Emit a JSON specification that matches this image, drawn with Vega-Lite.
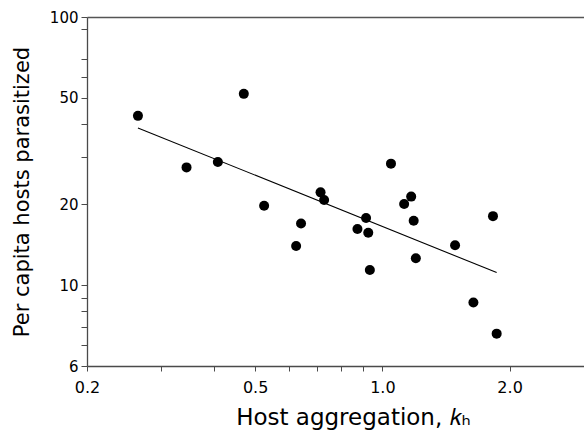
{
  "$schema": "https://vega.github.io/schema/vega-lite/v6.json",
  "width": 497,
  "height": 349,
  "autosize": {"type": "none"},
  "padding": {"left": 87, "top": 17, "right": 0, "bottom": 67},
  "background": "white",
  "config": {
    "view": {"stroke": null},
    "font": "DejaVu Sans",
    "axis": {
      "grid": false,
      "domainColor": "#4a4a4a",
      "domainWidth": 1.3,
      "tickColor": "#4a4a4a",
      "tickWidth": 1,
      "labelColor": "black",
      "titleColor": "black",
      "labelFont": "DejaVu Sans",
      "titleFont": "DejaVu Sans",
      "titleFontWeight": "normal"
    }
  },
  "datasets": {
    "points": [
      {"k": 0.264, "hosts": 42.8},
      {"k": 0.470, "hosts": 51.7},
      {"k": 0.344, "hosts": 27.5},
      {"k": 0.408, "hosts": 28.8},
      {"k": 0.525, "hosts": 19.8},
      {"k": 0.625, "hosts": 14.0},
      {"k": 0.642, "hosts": 17.0},
      {"k": 0.714, "hosts": 22.2},
      {"k": 0.728, "hosts": 20.8},
      {"k": 0.873, "hosts": 16.2},
      {"k": 0.915, "hosts": 17.8},
      {"k": 0.926, "hosts": 15.7},
      {"k": 0.934, "hosts": 11.4},
      {"k": 1.048, "hosts": 28.4},
      {"k": 1.126, "hosts": 20.1},
      {"k": 1.170, "hosts": 21.4},
      {"k": 1.186, "hosts": 17.4},
      {"k": 1.200, "hosts": 12.6},
      {"k": 1.486, "hosts": 14.1},
      {"k": 1.642, "hosts": 8.62},
      {"k": 1.827, "hosts": 18.1},
      {"k": 1.864, "hosts": 6.60}
    ],
    "fit": [
      {"k": 0.264, "hosts": 38.6},
      {"k": 1.864, "hosts": 11.15}
    ]
  },
  "resolve": {"axis": {"x": "independent", "y": "independent"}},
  "layer": [
    {
      "data": {"name": "fit"},
      "mark": {"type": "line", "color": "black", "strokeWidth": 1.1},
      "encoding": {
        "x": {
          "field": "k", "type": "quantitative",
          "scale": {"type": "log", "domain": [0.2, 3.0], "nice": false, "zero": false},
          "axis": {
            "orient": "bottom",
            "values": [0.2, 0.3, 0.4, 0.5, 0.6, 0.7, 0.8, 0.9, 1, 2],
            "format": ".1f",
            "labelExpr": "indexof([0.2, 0.5, 1, 2], datum.value) >= 0 ? datum.label : ''",
            "tickSize": 5,
            "labelFontSize": 16,
            "labelPadding": 8,
            "labelFlush": false,
            "title": "Host aggregation, 𝑘ₕ",
            "titleFontSize": 23,
            "titlePadding": 11,
            "titleX": 266
          }
        },
        "y": {
          "field": "hosts", "type": "quantitative",
          "scale": {"type": "log", "domain": [5, 100], "nice": false, "zero": false},
          "axis": {
            "orient": "left",
            "values": [5, 6, 7, 8, 9, 10, 20, 30, 40, 50, 60, 70, 90, 100],
            "format": "d",
            "labelExpr": "datum.value == 5 ? '6' : (indexof([10, 20, 50, 100], datum.value) >= 0 ? datum.label : '')",
            "tickSize": 6,
            "labelFontSize": 15,
            "labelPadding": 3,
            "labelFlush": false,
            "title": "Per capita hosts parasitized",
            "titleFontSize": 21,
            "titlePadding": 17
          }
        }
      }
    },
    {
      "data": {"name": "points"},
      "mark": {"type": "point", "shape": "circle", "filled": true, "color": "black", "opacity": 1, "size": 100},
      "encoding": {
        "x": {
          "field": "k", "type": "quantitative",
          "axis": {"orient": "top", "ticks": false, "labels": false, "title": null, "domainColor": "#555555", "domainWidth": 1.5}
        },
        "y": {"field": "hosts", "type": "quantitative", "axis": null}
      }
    }
  ]
}
